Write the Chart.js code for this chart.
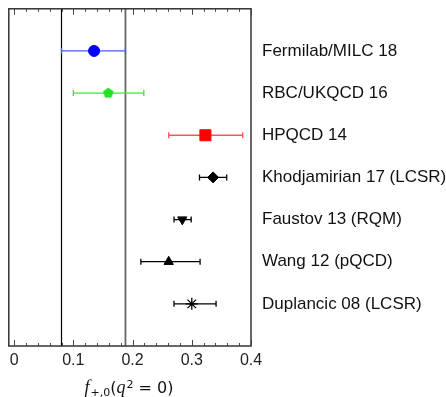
<!DOCTYPE html>
<html><head><meta charset="utf-8">
<script src="https://cdn.jsdelivr.net/npm/chart.js@4/dist/chart.umd.min.js"></script>
<style>html,body{margin:0;padding:0;background:#fff}#c{display:block}</style>
</head><body>
<canvas id="c" width="446" height="397"></canvas>
<script>
// ---- data ----
const labels = ['Fermilab/MILC 18','RBC/UKQCD 16','HPQCD 14','Khodjamirian 17 (LCSR)','Faustov 13 (RQM)','Wang 12 (pQCD)','Duplancic 08 (LCSR)'];
const centers = [0.135, 0.159, 0.323, 0.336, 0.284, 0.261, 0.300];
const errLow  = [0.080, 0.100, 0.261, 0.313, 0.270, 0.214, 0.270];
const errHigh = [0.188, 0.219, 0.386, 0.359, 0.299, 0.314, 0.341];
const bandLines = [0.080, 0.188];
const xTickValues = [0, 0.1, 0.2, 0.3, 0.4];
const xMinorStep = 0.02;
const axisTitleParts = [['f','italic'],['+,0','sub'],['(','normal'],['q','italic'],['2','sup'],[' = 0)','normal']];

// ---- styles ----
const markerColors = ['#0000ff','#22e022','#ff0000','#000000','#000000','#000000','#000000'];
const errColors    = ['#4a5aff','#33ee33','#ff5555','#000000','#000000','#000000','#000000'];

function pentagon(r, color){
  const s = 2*Math.ceil(r+1);
  const c = document.createElement('canvas'); c.width = s; c.height = s;
  const g = c.getContext('2d'); g.fillStyle = color; g.beginPath();
  for (let i=0;i<5;i++){ const a = -Math.PI/2 + i*2*Math.PI/5; g.lineTo(s/2 + r*Math.cos(a), s/2 + r*Math.sin(a)); }
  g.closePath(); g.fill(); return c;
}
const pointStyles = ['circle', pentagon(5.5, markerColors[1]), 'rect', 'rectRot', 'triangle', 'triangle', 'star'];
const pointRadii = [5.5, 6, 7.8, 5.5, 5.3, 5.4, 6];
const pointRot = [0,0,0,0,180,0,0];
const pointBW = [1,0,1,1,1,1,1.3];

const errorBars = {
  id:'errorBars',
  beforeDatasetsDraw(chart){
    const {ctx, chartArea:a, scales:{x,y}} = chart;
    ctx.save();
    ctx.beginPath(); ctx.rect(a.left, a.top, a.right-a.left, a.bottom-a.top); ctx.clip();
    bandLines.forEach((v,i)=>{
      const px = x.getPixelForValue(v);
      ctx.strokeStyle = i===0 ? '#000' : '#666';
      ctx.lineWidth = i===0 ? 1.2 : 1.8;
      ctx.beginPath(); ctx.moveTo(px, a.top); ctx.lineTo(px, a.bottom); ctx.stroke();
    });
    labels.forEach((_,i)=>{
      const py = y.getPixelForValue(i+1);
      const x0 = x.getPixelForValue(errLow[i]), x1 = x.getPixelForValue(errHigh[i]);
      ctx.strokeStyle = errColors[i]; ctx.lineWidth = 1.3;
      ctx.beginPath();
      ctx.moveTo(x0, py); ctx.lineTo(x1, py);
      ctx.moveTo(x0, py-3); ctx.lineTo(x0, py+3);
      ctx.moveTo(x1, py-3); ctx.lineTo(x1, py+3);
      ctx.stroke();
    });
    ctx.restore();
  },
  afterDraw(chart){
    const {ctx, chartArea:a, scales:{x}} = chart;
    ctx.save();
    ctx.strokeStyle = '#333'; ctx.lineWidth = 1.5;
    ctx.strokeRect(a.left, a.top, a.right-a.left, a.bottom-a.top);
    ctx.lineWidth = 1; ctx.strokeStyle = '#444';
    const n = Math.round(0.4/xMinorStep);
    for (let k=0;k<=n;k++){
      const v = k*xMinorStep;
      const major = xTickValues.some(t=>Math.abs(t-v)<1e-9);
      const len = major ? 6 : 3;
      const px = Math.round(x.getPixelForValue(v))+0.5;
      ctx.beginPath();
      ctx.moveTo(px, a.bottom); ctx.lineTo(px, a.bottom-len);
      ctx.moveTo(px, a.top); ctx.lineTo(px, a.top+len);
      ctx.stroke();
    }
    // axis title
    const ital = 'italic 18px "Liberation Serif", serif';
    const norm = '16px "DejaVu Sans", sans-serif';
    const sm = '11px "DejaVu Sans", sans-serif';
    const fontFor = s => s==='italic' ? ital : (s==='sub'||s==='sup') ? sm : norm;
    const gap = s => s==='italic' ? 1 : 0;
    let total = 0;
    axisTitleParts.forEach(([t,s])=>{ ctx.font = fontFor(s); total += ctx.measureText(t).width + gap(s); });
    let cx = 129 - total/2;
    const base = 393;
    ctx.fillStyle = '#111'; ctx.textBaseline = 'alphabetic'; ctx.textAlign = 'left';
    axisTitleParts.forEach(([t,s])=>{
      ctx.font = fontFor(s);
      const dy = s==='sub' ? 3 : s==='sup' ? -5 : 0;
      ctx.fillText(t, cx, base+dy);
      cx += ctx.measureText(t).width + gap(s);
    });
    ctx.restore();
  }
};

new Chart(document.getElementById('c'), {
  type:'scatter',
  data:{ datasets:[{
    data: centers.map((v,i)=>({x:v, y:i+1})),
    pointStyle: pointStyles,
    pointRadius: pointRadii,
    pointHoverRadius: pointRadii,
    pointRotation: pointRot,
    pointBackgroundColor: markerColors,
    pointBorderColor: markerColors,
    pointBorderWidth: pointBW
  }]},
  options:{
    responsive:false, animation:false,
    layout:{padding:{left:8, top:5, right:0, bottom:0}},
    plugins:{legend:{display:false}, tooltip:{enabled:false}},
    scales:{
      x:{ type:'linear', position:'bottom', min:-0.009, max:0.4,
        grid:{display:false, drawTicks:false}, border:{display:false},
        afterBuildTicks: s => { s.ticks = xTickValues.map(v=>({value:v})); },
        afterFit: s => { s.height = 51; s.paddingLeft = 0; s.paddingRight = 0; },
        ticks:{ autoSkip:false, maxRotation:0, padding:5, color:'#222',
          font:{family:'"Liberation Sans", Arial, sans-serif', size:16},
          callback: v => String(v) }
      },
      y:{ type:'linear', position:'right', min:0, max:8, reverse:true,
        grid:{display:false, drawTicks:false}, border:{display:false},
        afterBuildTicks: s => { s.ticks = labels.map((_,i)=>({value:i+1})); },
        afterFit: s => { s.width = 195; s.paddingTop = 0; s.paddingBottom = 0; },
        ticks:{ autoSkip:false, padding:11, color:'#111',
          font:{family:'"Liberation Sans", Arial, sans-serif', size:17},
          callback: v => labels[v-1] }
      }
    }
  },
  plugins:[errorBars]
});
</script>
</body></html>
